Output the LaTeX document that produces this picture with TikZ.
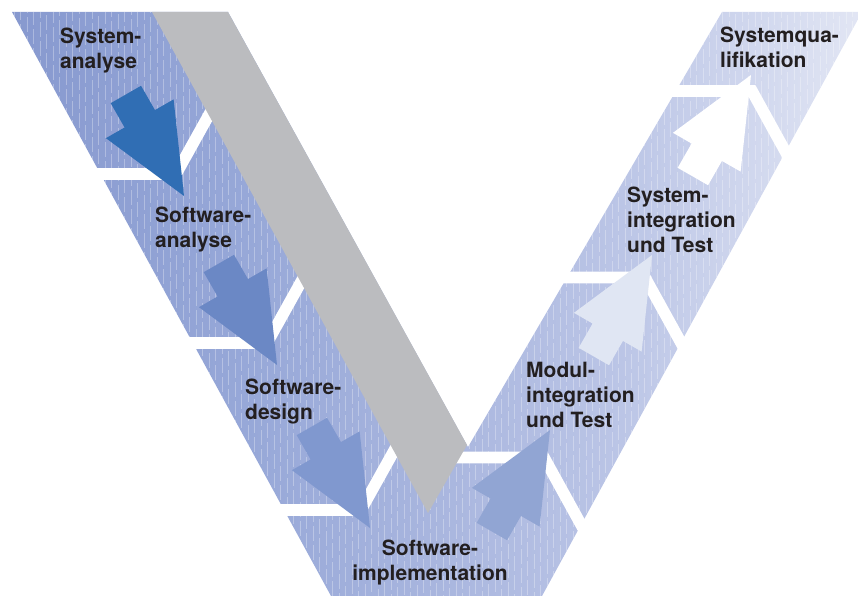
\documentclass[tikz,border=0pt]{standalone}
\usepackage{fontspec}
\setmainfont{TeX Gyre Heros}
\definecolor{bandA}{HTML}{8799CF}
\definecolor{bandB}{HTML}{97A8D8}
\definecolor{bandC}{HTML}{A8B5DE}
\definecolor{bandD}{HTML}{BBC5E6}
\definecolor{bandE}{HTML}{E2E6F4}
\definecolor{barGray}{HTML}{BBBCBF}
\definecolor{arrA}{HTML}{306EB4}
\definecolor{arrB}{HTML}{6B88C5}
\definecolor{arrC}{HTML}{8098CF}
\definecolor{arrD}{HTML}{91A5D3}
\definecolor{arrE}{HTML}{E0E6F3}
\definecolor{labeltext}{HTML}{231F20}
\pgfdeclarehorizontalshading{vband}{100bp}{color(0bp)=(bandA); color(25bp)=(bandA); color(39bp)=(bandB); color(49.6bp)=(bandC); color(60.8bp)=(bandD); color(75bp)=(bandE); color(100bp)=(bandE)}
\begin{document}
\begin{tikzpicture}[x=1pt,y=-1pt,
  gapline/.style={draw=white, line width=11.6pt, line join=miter},
  stagelabel/.style={font=\bfseries\fontsize{21}{25}\selectfont, text=labeltext, inner sep=0pt, align=left, anchor=north west},
  pics/stagearrow/.style={code={
    \fill[#1] (0,0) -- (-89,39) -- (-89,17.5) -- (-117,17.5) -- (-117,-17.5) -- (-89,-17.5) -- (-89,-39) -- cycle;}}
]
\useasboundingbox (0,0) rectangle (858,596);
\def\vshape{(12,12) -- (228,12) -- (468,447) -- (722,12) -- (862,12) -- (542,596) -- (331,596) -- cycle}

% the V band with its colour run
\path[shading=vband] \vshape;

% fine vertical streaks over the band
\begin{scope}
  \clip \vshape;
  \foreach \i in {0,...,131}{
    \pgfmathsetmacro\xx{14+6.5*\i}
    \pgfmathsetmacro\ph{mod(\i*7,19)}
    \draw[white, opacity=0.3, line width=0.7pt, dash pattern=on 15pt off 4pt, dash phase=\ph pt] (\xx,12) -- (\xx,596);
  }
\end{scope}

% white steps between the phases
\draw[gapline] (60,174) -- (176,174) -- ++(39,-70);
\draw[gapline] (150,343) -- (267,343) -- ++(39,-70);
\draw[gapline] (240,510) -- (361,510) -- ++(39,-70);
\draw[gapline] (440,457.5) -- (544,457.5) -- ++(48,87);
\draw[gapline] (540,277.5) -- (645,277.5) -- ++(48,87);
\draw[gapline] (650,91) -- (752,91) -- ++(48,87);

% grey bar in the notch of the V
\fill[barGray] (152,12) -- (228,12) -- (467,445) -- (428,513) -- cycle;

% phase arrows
\pic[rotate=-60.2] at (184,196) {stagearrow=arrA};
\pic[rotate=-60.2] at (277,365) {stagearrow=arrB};
\pic[rotate=-60.2] at (370,528) {stagearrow=arrC};
\pic[rotate=60.2] at (550,430) {stagearrow=arrD};
\pic[rotate=60.2] at (652,255) {stagearrow=arrE};
\pic[rotate=60.2] at (751,75) {stagearrow=white};

% phase names
\node[stagelabel] (sysana) at (60,28) {System-\\analyse};
\node[stagelabel] (swana) at (155,207) {Software-\\analyse};
\node[stagelabel] (swdes) at (245,379) {Software-\\design};
\node[stagelabel, align=center, anchor=north] (swimp) at (430,540) {Software-\\implementation};
\node[stagelabel] (modint) at (526,362) {Modul-\\integration\\und Test};
\node[stagelabel] (sysint) at (627,187) {System-\\integration\\und Test};
\node[stagelabel] (sysqual) at (720,27) {Systemqua-\\lifikation};
\end{tikzpicture}
\end{document}
